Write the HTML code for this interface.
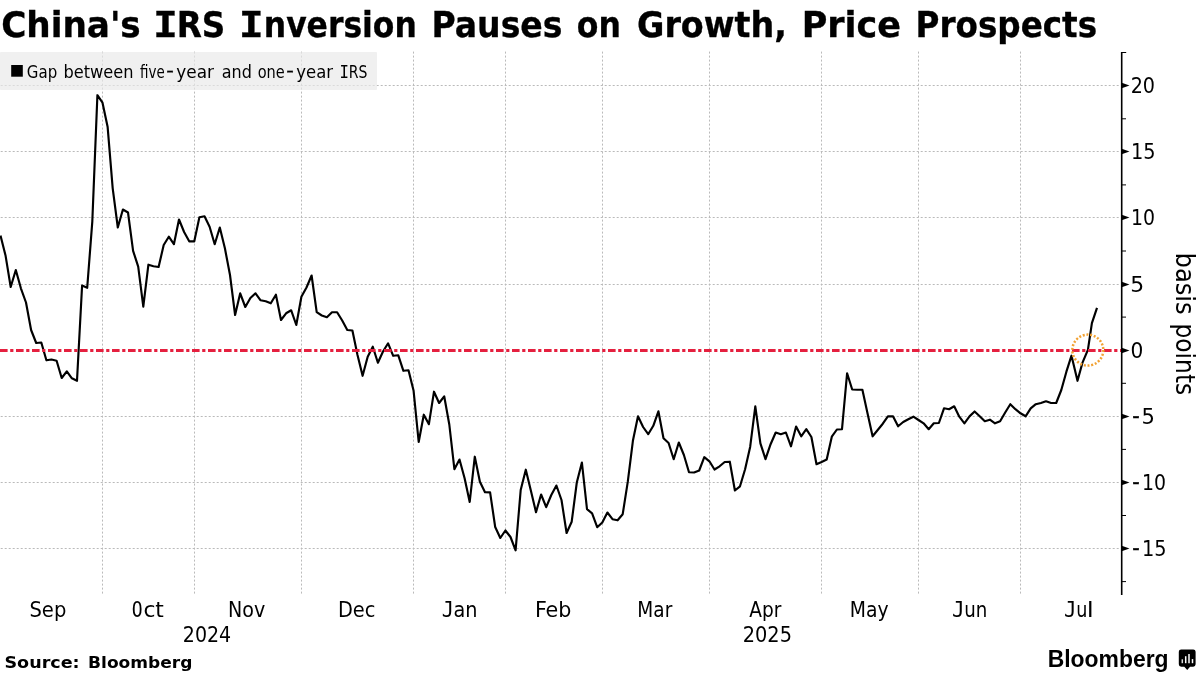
<!DOCTYPE html>
<html lang="en"><head><meta charset="utf-8"><title>China's IRS Inversion Pauses on Growth, Price Prospects</title>
<style>
html,body{margin:0;padding:0;background:#fff;}
body{width:1200px;height:675px;overflow:hidden;position:relative;}
svg{position:absolute;left:0;top:0;display:block;}
text{fill:#000;white-space:pre;}
.t{font-family:'DejaVu Sans','Liberation Sans',sans-serif;font-stretch:condensed;font-weight:bold;font-size:35.5px;stroke:#000;stroke-width:0.3px;}
.lg{font-family:'DejaVu Sans','Liberation Sans',sans-serif;font-stretch:condensed;font-size:17.5px;}
.ax{font-family:'DejaVu Sans','Liberation Sans',sans-serif;font-stretch:condensed;font-size:20.5px;}
.bp{font-family:'DejaVu Sans','Liberation Sans',sans-serif;font-stretch:condensed;font-size:26.5px;}
.src{font-family:'DejaVu Sans','Liberation Sans',sans-serif;font-weight:bold;font-size:16.6px;}
.bb{font-family:'Liberation Sans','DejaVu Sans',sans-serif;font-weight:bold;font-size:24.6px;}
</style></head><body>
<svg width="1200" height="675" viewBox="0 0 1200 675">
<rect x="0" y="0" width="1200" height="675" fill="#fff"/>

<rect x="0" y="52" width="377" height="38" rx="1" fill="#f0f0f0"/>
<g stroke="#bababa" stroke-width="1" stroke-dasharray="2 2" fill="none">
<line x1="102.5" y1="51.6" x2="102.5" y2="594.5"/>
<line x1="194.5" y1="51.6" x2="194.5" y2="594.5"/>
<line x1="301.5" y1="51.6" x2="301.5" y2="594.5"/>
<line x1="413.5" y1="51.6" x2="413.5" y2="594.5"/>
<line x1="505.5" y1="51.6" x2="505.5" y2="594.5"/>
<line x1="602.5" y1="51.6" x2="602.5" y2="594.5"/>
<line x1="709.5" y1="51.6" x2="709.5" y2="594.5"/>
<line x1="821.5" y1="51.6" x2="821.5" y2="594.5"/>
<line x1="918.5" y1="51.6" x2="918.5" y2="594.5"/>
<line x1="1020.5" y1="51.6" x2="1020.5" y2="594.5"/>
<line x1="-3.3" y1="85.5" x2="1119" y2="85.5"/>
<line x1="-3.3" y1="151.5" x2="1119" y2="151.5"/>
<line x1="-3.3" y1="217.5" x2="1119" y2="217.5"/>
<line x1="-3.3" y1="284.5" x2="1119" y2="284.5"/>
<line x1="-3.3" y1="416.5" x2="1119" y2="416.5"/>
<line x1="-3.3" y1="482.5" x2="1119" y2="482.5"/>
<line x1="-3.3" y1="548.5" x2="1119" y2="548.5"/>
</g>
<rect x="0" y="52" width="377" height="38" rx="1" fill="#f0f0f0" fill-opacity="0.6"/>
<text class="t"><tspan x="1.19" y="37.0" textLength="139.56" lengthAdjust="spacingAndGlyphs">China's</tspan> <tspan x="153.10" y="37.0" textLength="24.96" lengthAdjust="spacingAndGlyphs" style="font-family:'DejaVu Sans Mono','Liberation Mono',monospace;font-stretch:normal;">I</tspan><tspan x="176.73" y="37.0" textLength="48.67" lengthAdjust="spacingAndGlyphs">RS</tspan> <tspan x="238.78" y="37.0" textLength="25.10" lengthAdjust="spacingAndGlyphs" style="font-family:'DejaVu Sans Mono','Liberation Mono',monospace;font-stretch:normal;">I</tspan><tspan x="263.80" y="37.0" textLength="152.98" lengthAdjust="spacingAndGlyphs">nversion</tspan> <tspan x="431.49" y="37.0" textLength="131.00" lengthAdjust="spacingAndGlyphs">Pauses</tspan> <tspan x="576.82" y="37.0" textLength="44.08" lengthAdjust="spacingAndGlyphs">on</tspan> <tspan x="637.03" y="37.0" textLength="149.93" lengthAdjust="spacingAndGlyphs">Growth,</tspan> <tspan x="801.71" y="37.0" textLength="99.34" lengthAdjust="spacingAndGlyphs">Price</tspan> <tspan x="915.54" y="37.0" textLength="181.61" lengthAdjust="spacingAndGlyphs">Prospects</tspan></text>
<rect x="11.2" y="65" width="11.6" height="11.7" fill="#000"/>
<text class="lg"><tspan x="26.85" y="77.5" textLength="30.36" lengthAdjust="spacingAndGlyphs">Gap</tspan> <tspan x="63.46" y="77.5" textLength="70.13" lengthAdjust="spacingAndGlyphs">between</tspan> <tspan x="140.09" y="77.5" textLength="24.70" lengthAdjust="spacingAndGlyphs">five</tspan><tspan x="166.33" y="76.0" textLength="7.58" lengthAdjust="spacingAndGlyphs" style="stroke:#000;stroke-width:0.35px;">-</tspan><tspan x="176.36" y="77.5" textLength="37.67" lengthAdjust="spacingAndGlyphs">year</tspan> <tspan x="221.78" y="77.5" textLength="30.12" lengthAdjust="spacingAndGlyphs">and</tspan> <tspan x="257.68" y="77.5" textLength="27.06" lengthAdjust="spacingAndGlyphs">one</tspan><tspan x="286.33" y="76.0" textLength="7.58" lengthAdjust="spacingAndGlyphs" style="stroke:#000;stroke-width:0.35px;">-</tspan><tspan x="296.38" y="77.5" textLength="36.75" lengthAdjust="spacingAndGlyphs">year</tspan> <tspan x="339.43" y="77.5" textLength="9.49" lengthAdjust="spacingAndGlyphs" style="font-family:'DejaVu Sans Mono','Liberation Mono',monospace;font-stretch:normal;">I</tspan><tspan x="348.86" y="77.5" textLength="18.67" lengthAdjust="spacingAndGlyphs">RS</tspan></text>
<path d="M0.5 235.6 L5.6 255.8 L10.7 287.0 L15.8 270.0 L20.9 288.3 L26.0 302.5 L31.1 330.0 L36.2 343.0 L41.3 342.5 L46.4 360.3 L51.5 359.5 L56.6 360.7 L61.7 378.0 L66.8 371.3 L71.9 378.3 L77.0 380.8 L82.1 285.5 L87.2 287.8 L92.3 221.7 L97.4 95.2 L102.5 102.7 L107.6 126.7 L112.7 188.3 L117.8 227.5 L122.9 209.5 L128.0 212.5 L133.1 250.8 L138.2 266.7 L143.3 306.7 L148.4 264.7 L153.5 266.2 L158.6 267.0 L163.7 245.0 L168.8 236.7 L173.9 244.2 L179.0 219.5 L184.1 232.0 L189.2 241.3 L194.3 241.3 L199.4 217.2 L204.5 216.3 L209.6 226.7 L214.7 244.2 L219.8 227.5 L224.9 248.3 L230.0 275.0 L235.1 315.0 L240.2 293.3 L245.3 307.0 L250.4 298.0 L255.5 293.3 L260.6 300.3 L265.7 301.3 L270.8 303.3 L275.9 294.7 L281.0 320.0 L286.1 313.3 L291.2 310.3 L296.3 325.0 L301.4 296.7 L306.5 287.5 L311.6 275.5 L316.7 312.2 L321.8 315.5 L326.9 317.2 L332.0 312.2 L337.1 312.2 L342.2 320.5 L347.3 330.0 L352.4 330.5 L357.5 355.0 L362.6 375.8 L367.7 356.7 L372.8 346.7 L377.9 362.8 L383.0 351.5 L388.1 343.3 L393.2 355.8 L398.3 355.3 L403.4 370.8 L408.5 370.3 L413.6 390.8 L418.7 442.0 L423.8 414.7 L428.9 424.2 L434.0 391.7 L439.1 403.0 L444.2 396.3 L449.3 424.5 L454.4 469.2 L459.5 459.5 L464.6 478.3 L469.7 502.0 L474.8 456.7 L479.9 481.7 L485.0 492.2 L490.1 492.4 L495.2 527.0 L500.3 538.0 L505.4 530.5 L510.5 537.0 L515.6 550.3 L520.7 490.0 L525.8 469.7 L530.9 490.8 L536.0 512.2 L541.1 494.5 L546.2 507.2 L551.3 495.0 L556.4 485.5 L561.5 500.0 L566.6 533.0 L571.7 521.7 L576.8 482.5 L581.9 462.5 L587.0 509.2 L592.1 513.3 L597.2 527.2 L602.3 522.5 L607.4 512.5 L612.5 519.2 L617.6 520.3 L622.7 514.2 L627.8 481.7 L632.9 440.8 L638.0 416.3 L643.1 427.0 L648.2 434.2 L653.3 425.8 L658.4 411.3 L663.5 438.3 L668.6 443.0 L673.7 459.2 L678.8 442.5 L683.9 455.0 L689.0 472.2 L694.1 472.5 L699.2 470.5 L704.3 457.2 L709.4 461.3 L714.5 469.5 L719.6 466.3 L724.7 462.0 L729.8 461.7 L734.9 490.5 L740.0 486.3 L745.1 469.2 L750.2 446.7 L755.3 406.3 L760.4 443.3 L765.5 459.2 L770.6 444.2 L775.7 432.5 L780.8 434.2 L785.9 432.5 L791.0 446.3 L796.1 426.5 L801.2 436.3 L806.3 429.2 L811.4 437.0 L816.5 464.2 L821.6 462.0 L826.7 459.5 L831.8 436.7 L836.9 429.5 L842.0 429.2 L847.1 373.3 L852.2 389.5 L857.3 389.7 L862.4 389.7 L867.5 413.3 L872.6 436.3 L877.7 430.0 L882.8 423.7 L887.9 416.3 L893.0 416.3 L898.1 426.3 L903.2 422.0 L908.3 419.2 L913.4 416.7 L918.5 420.0 L923.6 423.3 L928.7 429.2 L933.8 423.3 L938.9 423.0 L944.0 408.3 L949.1 409.2 L954.2 406.3 L959.3 416.7 L964.4 423.3 L969.5 416.4 L974.6 411.5 L979.7 416.2 L984.8 421.2 L989.9 419.7 L995.0 423.3 L1000.1 421.3 L1005.2 412.5 L1010.3 404.2 L1015.4 409.2 L1020.5 413.3 L1025.6 416.3 L1030.7 408.3 L1035.8 404.2 L1040.9 403.0 L1046.0 401.3 L1051.1 403.0 L1056.2 403.0 L1061.3 390.0 L1066.4 371.7 L1071.5 355.7 L1077.5 380.8 L1082.6 362.3 L1087.9 349.8 L1091.9 323.2 L1097.0 307.9" fill="none" stroke="#000" stroke-width="2.15" stroke-linejoin="round" stroke-linecap="butt"/>
<line x1="0" y1="350.5" x2="1121.7" y2="350.5" stroke="#e5203f" stroke-width="2.8" stroke-dasharray="7.6 2.6 3.2 2.6"/>
<circle cx="1087.8" cy="350.1" r="15.5" fill="none" stroke="#f2a233" stroke-width="2.5" stroke-dasharray="2 1.746"/>
<g stroke="#000" fill="none"><line x1="1121.7" y1="52" x2="1121.7" y2="595" stroke-width="1.6"/>
<line x1="1121.7" y1="52.5" x2="1126.2" y2="52.5" stroke-width="1"/>
<line x1="1121.7" y1="118.8" x2="1126.0" y2="118.8" stroke-width="1"/>
<line x1="1121.7" y1="184.9" x2="1126.0" y2="184.9" stroke-width="1"/>
<line x1="1121.7" y1="251.0" x2="1126.0" y2="251.0" stroke-width="1"/>
<line x1="1121.7" y1="317.1" x2="1126.0" y2="317.1" stroke-width="1"/>
<line x1="1121.7" y1="383.3" x2="1126.0" y2="383.3" stroke-width="1"/>
<line x1="1121.7" y1="449.4" x2="1126.0" y2="449.4" stroke-width="1"/>
<line x1="1121.7" y1="515.5" x2="1126.0" y2="515.5" stroke-width="1"/>
<line x1="1121.7" y1="581.6" x2="1126.0" y2="581.6" stroke-width="1"/>
</g>
<path d="M1121.7 82.8 L1129.5 85.5 L1121.7 88.2 Z" fill="#000"/>
<text class="ax"><tspan x="1130.70" y="93.1" textLength="24.36" lengthAdjust="spacingAndGlyphs">20</tspan></text>
<path d="M1121.7 148.8 L1129.5 151.5 L1121.7 154.2 Z" fill="#000"/>
<text class="ax"><tspan x="1131.00" y="159.1" textLength="24.59" lengthAdjust="spacingAndGlyphs">15</tspan></text>
<path d="M1121.7 214.8 L1129.5 217.5 L1121.7 220.2 Z" fill="#000"/>
<text class="ax"><tspan x="1131.06" y="225.1" textLength="23.99" lengthAdjust="spacingAndGlyphs">10</tspan></text>
<path d="M1121.7 281.8 L1129.5 284.5 L1121.7 287.2 Z" fill="#000"/>
<text class="ax"><tspan x="1130.22" y="292.1" textLength="13.94" lengthAdjust="spacingAndGlyphs">5</tspan></text>
<path d="M1121.7 347.8 L1129.5 350.5 L1121.7 353.2 Z" fill="#000"/>
<text class="ax"><tspan x="1130.64" y="358.1" textLength="12.81" lengthAdjust="spacingAndGlyphs">0</tspan></text>
<path d="M1121.7 413.8 L1129.5 416.5 L1121.7 419.2 Z" fill="#000"/>
<text class="ax"><tspan x="1132.26" y="423.4" textLength="7.48" lengthAdjust="spacingAndGlyphs" style="stroke:#000;stroke-width:0.35px;">-</tspan><tspan x="1141.49" y="424.1" textLength="13.39" lengthAdjust="spacingAndGlyphs">5</tspan></text>
<path d="M1121.7 479.8 L1129.5 482.5 L1121.7 485.2 Z" fill="#000"/>
<text class="ax"><tspan x="1132.26" y="489.4" textLength="7.48" lengthAdjust="spacingAndGlyphs" style="stroke:#000;stroke-width:0.35px;">-</tspan><tspan x="1142.06" y="490.1" textLength="23.99" lengthAdjust="spacingAndGlyphs">10</tspan></text>
<path d="M1121.7 545.8 L1129.5 548.5 L1121.7 551.2 Z" fill="#000"/>
<text class="ax"><tspan x="1132.26" y="555.4" textLength="7.48" lengthAdjust="spacingAndGlyphs" style="stroke:#000;stroke-width:0.35px;">-</tspan><tspan x="1142.00" y="556.1" textLength="24.59" lengthAdjust="spacingAndGlyphs">15</tspan></text>
<text class="bp" transform="translate(1175.8 0) rotate(90)"><tspan x="252.52" y="0.0" textLength="62.12" lengthAdjust="spacingAndGlyphs">basis</tspan> <tspan x="323.39" y="0.0" textLength="71.91" lengthAdjust="spacingAndGlyphs">points</tspan></text>
<text class="ax"><tspan x="29.48" y="616.6" textLength="36.81" lengthAdjust="spacingAndGlyphs">Sep</tspan></text>
<text class="ax"><tspan x="131.70" y="616.6" textLength="10.86" lengthAdjust="spacingAndGlyphs" style="font-family:'DejaVu Sans Mono','Liberation Mono',monospace;font-stretch:normal;">O</tspan><tspan x="143.42" y="616.6" textLength="20.51" lengthAdjust="spacingAndGlyphs">ct</tspan></text>
<text class="ax"><tspan x="227.99" y="616.6" textLength="37.21" lengthAdjust="spacingAndGlyphs">Nov</tspan></text>
<text class="ax"><tspan x="337.96" y="616.6" textLength="37.49" lengthAdjust="spacingAndGlyphs">Dec</tspan></text>
<text class="ax"><tspan x="441.71" y="616.6" textLength="12.20" lengthAdjust="spacingAndGlyphs" style="font-family:'DejaVu Sans Mono','Liberation Mono',monospace;font-stretch:normal;">J</tspan><tspan x="453.56" y="616.6" textLength="24.01" lengthAdjust="spacingAndGlyphs">an</tspan></text>
<text class="ax"><tspan x="534.94" y="616.6" textLength="36.44" lengthAdjust="spacingAndGlyphs">Feb</tspan></text>
<text class="ax"><tspan x="637.34" y="616.6" textLength="34.90" lengthAdjust="spacingAndGlyphs">Mar</tspan></text>
<text class="ax"><tspan x="749.35" y="616.6" textLength="32.05" lengthAdjust="spacingAndGlyphs">Apr</tspan></text>
<text class="ax"><tspan x="849.82" y="616.6" textLength="38.82" lengthAdjust="spacingAndGlyphs">May</tspan></text>
<text class="ax"><tspan x="951.98" y="616.6" textLength="12.63" lengthAdjust="spacingAndGlyphs" style="font-family:'DejaVu Sans Mono','Liberation Mono',monospace;font-stretch:normal;">J</tspan><tspan x="964.32" y="616.6" textLength="23.09" lengthAdjust="spacingAndGlyphs">un</tspan></text>
<text class="ax"><tspan x="1063.99" y="616.6" textLength="12.49" lengthAdjust="spacingAndGlyphs" style="font-family:'DejaVu Sans Mono','Liberation Mono',monospace;font-stretch:normal;">J</tspan><tspan x="1076.27" y="616.6" textLength="11.14" lengthAdjust="spacingAndGlyphs">u</tspan><tspan x="1086.80" y="616.6" textLength="7.03" lengthAdjust="spacingAndGlyphs">l</tspan></text>
<text class="ax"><tspan x="182.81" y="641.6" textLength="48.34" lengthAdjust="spacingAndGlyphs">2024</tspan></text>
<text class="ax"><tspan x="742.79" y="641.6" textLength="49.17" lengthAdjust="spacingAndGlyphs">2025</tspan></text>
<text class="src"><tspan x="4.48" y="667.8" textLength="75.17" lengthAdjust="spacingAndGlyphs">Source:</tspan> <tspan x="88.06" y="667.8" textLength="104.37" lengthAdjust="spacingAndGlyphs">Bloomberg</tspan></text>
<text class="bb" transform="translate(1047.67 666.8) scale(0.9320 1)">Bloomberg</text>
<g>
<path d="M1181.2 649.4 h12 a2.4 2.4 0 0 1 2.4 2.4 v12.5 a2.4 2.4 0 0 1 -2.4 2.4 h-3.1 l-2.9 3.4 l-2.9 -3.4 h-3.1 a2.4 2.4 0 0 1 -2.4 -2.4 v-12.5 a2.4 2.4 0 0 1 2.4 -2.4 z" fill="#000"/>
<g stroke="#fff" stroke-width="1.5"><line x1="1182.3" y1="659.3" x2="1182.3" y2="663.2" stroke="#ddd"/><line x1="1185.7" y1="656.2" x2="1185.7" y2="663.2"/><line x1="1189.0" y1="653.9" x2="1189.0" y2="663.2"/><line x1="1192.5" y1="659.1" x2="1192.5" y2="663.2"/></g>
</g>
</svg></body></html>
